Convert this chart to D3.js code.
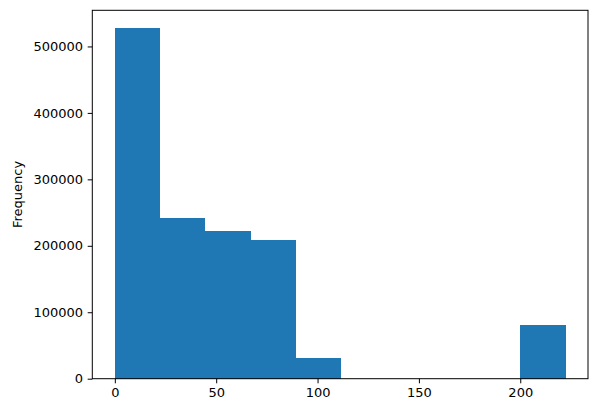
<!DOCTYPE html>
<html><head><meta charset="utf-8">
<script src="https://cdn.jsdelivr.net/npm/d3@7"></script>
<style>body{margin:0;background:#fff}svg{display:block}text{font-family:"DejaVu Sans",sans-serif}</style>
</head><body><svg id="c" width="597" height="413"></svg>
<script>
const binEdgesMin = 0, binEdgesMax = 222.3;
const counts = [528000, 241500, 222000, 208500, 31000, 0, 0, 0, 0, 80500];
const xTicks = [0, 50, 100, 150, 200];
const yTicks = [0, 100000, 200000, 300000, 400000, 500000];
const yLabel = "Frequency";

const W = 597, H = 413;
const m = {left: 92.3, top: 10.3, right: 9, bottom: 34.3};
const svg = d3.select("#c");
const nb = counts.length;
const bw = (binEdgesMax - binEdgesMin) / nb;
const bins = counts.map((c, i) => ({x0: binEdgesMin + i * bw, x1: binEdgesMin + (i + 1) * bw, c}));
const span = binEdgesMax - binEdgesMin;
const x = d3.scaleLinear().domain([binEdgesMin - 0.05 * span, binEdgesMax + 0.05 * span]).range([m.left, W - m.right]);
const ymax = d3.max(counts) * 1.05;
const y = d3.scaleLinear().domain([0, ymax]).range([H - m.bottom, m.top]);

svg.append("g").attr("shape-rendering", "crispEdges").selectAll("rect").data(bins.filter(b => b.c > 0)).join("rect")
  .attr("x", d => x(d.x0)).attr("width", d => x(d.x1) - x(d.x0) + 0.5)
  .attr("y", d => y(d.c)).attr("height", d => y(0) - y(d.c))
  .attr("fill", "#1f77b4");

const fs = 13;
const gx = svg.append("g").attr("transform", `translate(0,${H - m.bottom})`)
  .call(d3.axisBottom(x).tickValues(xTicks).tickFormat(d3.format("d")).tickSize(4.6).tickPadding(4.6));
const gy = svg.append("g").attr("transform", `translate(${m.left},0)`)
  .call(d3.axisLeft(y).tickValues(yTicks).tickFormat(d3.format("d")).tickSize(4.6).tickPadding(4.6));
[gx, gy].forEach(g => {
  g.select(".domain").remove();
  g.selectAll("line").attr("stroke", "#000").attr("stroke-width", 1);
  g.selectAll("text").attr("font-size", fs).attr("fill", "#000").attr("font-family", "DejaVu Sans");
});
svg.append("rect").attr("x", m.left).attr("y", m.top)
  .attr("width", W - m.left - m.right).attr("height", H - m.top - m.bottom)
  .attr("fill", "none").attr("stroke", "#000").attr("stroke-width", 1);
svg.append("text").attr("transform", `translate(21.5,${(m.top + H - m.bottom) / 2}) rotate(-90)`)
  .attr("text-anchor", "middle").attr("font-size", fs).attr("fill", "#000").text(yLabel);
</script></body></html>
